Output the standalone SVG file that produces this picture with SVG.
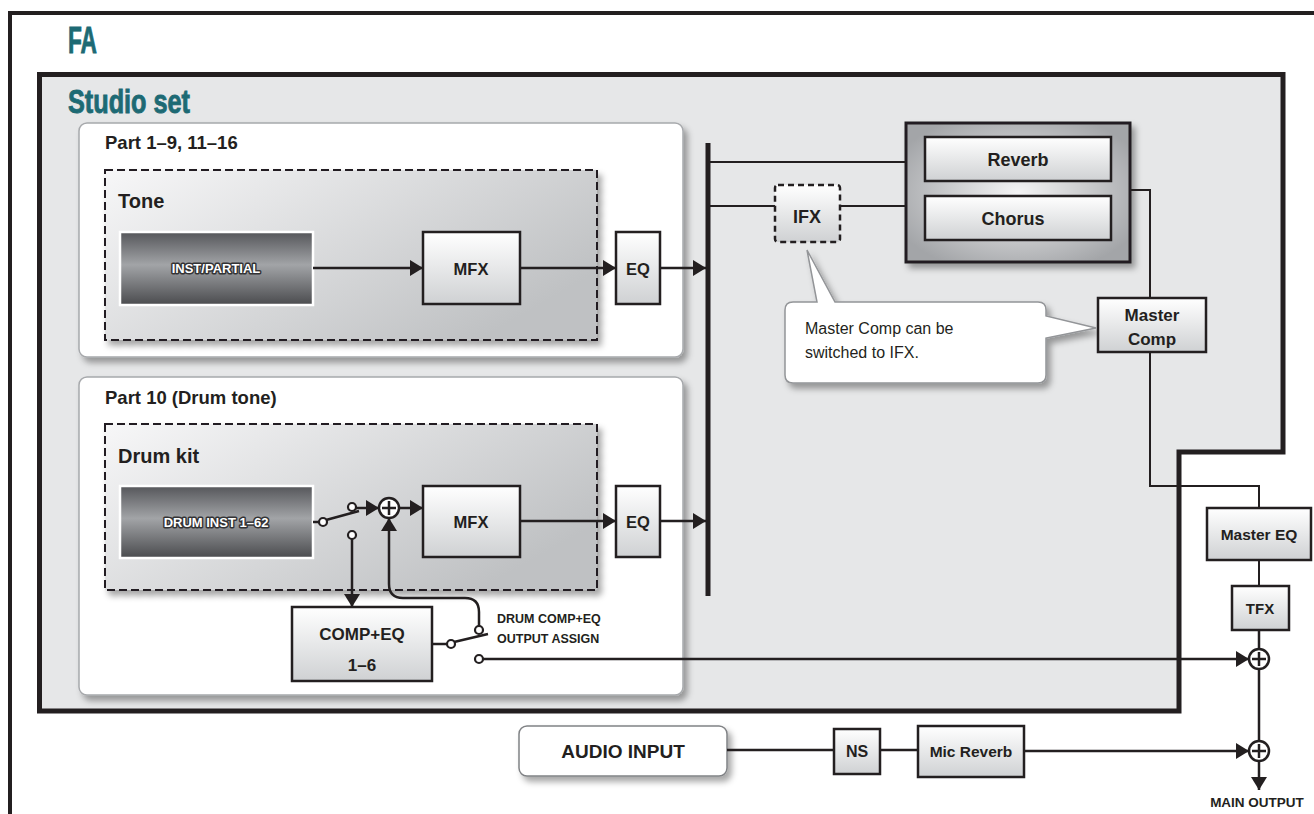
<svg xmlns="http://www.w3.org/2000/svg" width="1314" height="814" viewBox="0 0 1314 814">
<defs>
<linearGradient id="boxg" x1="0" y1="0" x2="0" y2="1"><stop offset="0" stop-color="#ffffff"/><stop offset="1" stop-color="#cfd1d3"/></linearGradient>
<linearGradient id="darkg" x1="0" y1="0" x2="0" y2="1"><stop offset="0" stop-color="#55565a"/><stop offset="0.45" stop-color="#a2a4a7"/><stop offset="1" stop-color="#4a4b4e"/></linearGradient>
<linearGradient id="areag" x1="0" y1="0" x2="1" y2="0.6"><stop offset="0" stop-color="#f7f7f8"/><stop offset="1" stop-color="#bfc1c3"/></linearGradient>
<radialGradient id="fxg" cx="0.5" cy="0.5" r="0.6"><stop offset="0" stop-color="#f4f4f5"/><stop offset="1" stop-color="#a3a5a8"/></radialGradient>
<filter id="sh" x="-10%" y="-10%" width="130%" height="140%"><feDropShadow dx="4" dy="5" stdDeviation="3" flood-color="#000" flood-opacity="0.35"/></filter>
<marker id="ah" markerUnits="userSpaceOnUse" markerWidth="14" markerHeight="16" refX="13" refY="8" orient="auto"><path d="M0,0 L13,8 L0,16 Z" fill="#231f20"/></marker>
<style>
.t{font-family:"Liberation Sans",Arial,sans-serif;fill:#231f20}
.b{font-weight:bold}
.title{font-family:"Liberation Sans",Arial,sans-serif;font-weight:bold;fill:#1d6a74;stroke:#1d6a74;stroke-width:0.9}
.box{fill:url(#boxg);stroke:#231f20;stroke-width:2.5}
.dark{fill:url(#darkg);stroke:#ffffff;stroke-width:2.5}
.wl{font-family:"Liberation Sans",Arial,sans-serif;font-weight:bold;font-size:13px;fill:#ffffff;stroke:#333335;stroke-width:3;paint-order:stroke;stroke-linejoin:round}
.part{fill:#ffffff;stroke:#a7a9ac;stroke-width:1.5}
.area{fill:url(#areag);stroke:#231f20;stroke-width:2;stroke-dasharray:8 4}
.ln{fill:none;stroke:#231f20;stroke-width:2.5}
.ln2{fill:none;stroke:#231f20;stroke-width:2}
.ar{fill:none;stroke:#231f20;stroke-width:2.5;marker-end:url(#ah)}
.dot{fill:#ffffff;stroke:#231f20;stroke-width:2.2}
.plus{fill:#ffffff;stroke:#231f20;stroke-width:2.5}
</style>
</defs>

<g id="frame-fa">
<rect x="10" y="13" width="1330" height="830" fill="#ffffff" stroke="#231f20" stroke-width="4"/>
<text class="title" x="68" y="53" font-size="36" textLength="29" lengthAdjust="spacingAndGlyphs">FA</text>
</g>
<g id="frame-studio">
<path d="M39.5,74.5 H1283 V452 H1179 V711 H39.5 Z" fill="#e6e7e8" stroke="#231f20" stroke-width="5"/>
<text class="title" x="68" y="113" font-size="33" textLength="122" lengthAdjust="spacingAndGlyphs">Studio set</text>
</g>

<g id="part1">
<rect class="part" x="79" y="123" width="604" height="234" rx="8" filter="url(#sh)"/>
<text class="t b" x="105" y="149" font-size="18.5">Part 1–9, 11–16</text>
</g>
<g id="tone">
<rect class="area" x="105" y="170" width="492" height="170" filter="url(#sh)"/>
<text class="t b" x="118" y="208" font-size="20">Tone</text>
</g>
<g id="inst-partial">
<rect class="dark" x="120" y="232" width="193" height="73"/>
<text class="wl" x="216" y="273" text-anchor="middle">INST/PARTIAL</text>
</g>
<g id="mfx1">
<rect class="box" x="423" y="232" width="97" height="72"/>
<text class="t b" x="471" y="275" font-size="16.5" text-anchor="middle">MFX</text>
</g>
<g id="eq1">
<rect class="box" x="616" y="232" width="44" height="72"/>
<text class="t b" x="638" y="275" font-size="16.5" text-anchor="middle">EQ</text>
</g>

<g id="part10">
<rect class="part" x="79" y="377" width="604" height="318" rx="8" filter="url(#sh)"/>
<text class="t b" x="105" y="404" font-size="18.5">Part 10 (Drum tone)</text>
</g>
<g id="drumkit">
<rect class="area" x="105" y="424" width="492" height="166" filter="url(#sh)"/>
<text class="t b" x="118" y="463" font-size="20">Drum kit</text>
</g>
<g id="drum-inst">
<rect class="dark" x="120" y="486" width="193" height="72"/>
<text class="wl" x="216" y="527" text-anchor="middle">DRUM INST 1–62</text>
</g>
<g id="mfx2">
<rect class="box" x="423" y="486" width="97" height="71"/>
<text class="t b" x="471" y="528" font-size="16.5" text-anchor="middle">MFX</text>
</g>
<g id="eq2">
<rect class="box" x="616" y="486" width="44" height="71"/>
<text class="t b" x="638" y="528" font-size="16.5" text-anchor="middle">EQ</text>
</g>
<g id="compeq">
<rect class="box" x="292" y="607" width="140" height="74"/>
<text class="t b" x="362" y="640" font-size="17" text-anchor="middle">COMP+EQ</text>
<text class="t b" x="362" y="671" font-size="17" text-anchor="middle">1–6</text>
</g>
<g id="assign-label">
<text class="t b" x="497" y="623" font-size="12.5">DRUM COMP+EQ</text>
<text class="t b" x="497" y="643" font-size="12.5">OUTPUT ASSIGN</text>
</g>

<g id="ifx">
<rect x="775" y="185" width="65" height="57" rx="3" fill="url(#boxg)" stroke="#231f20" stroke-width="2.5" stroke-dasharray="6 4"/>
<text class="t b" x="807" y="223" font-size="18" text-anchor="middle">IFX</text>
</g>
<g id="fx-block">
<rect x="906" y="123" width="224" height="139" fill="url(#fxg)" stroke="#231f20" stroke-width="3" filter="url(#sh)"/>
</g>
<g id="reverb">
<rect class="box" x="925" y="137" width="186" height="44" stroke-width="3"/>
<text class="t b" x="1018" y="166" font-size="18" text-anchor="middle">Reverb</text>
</g>
<g id="chorus">
<rect class="box" x="925" y="196" width="186" height="44" stroke-width="3"/>
<text class="t b" x="1013" y="225" font-size="18" text-anchor="middle">Chorus</text>
</g>
<g id="callout">
<path d="M793,302 H817 L807,250 L835,302 H1038 Q1046,302 1046,310 V316 L1096,328 L1046,338 V375 Q1046,383 1038,383 H793 Q785,383 785,375 V310 Q785,302 793,302 Z" fill="#ffffff" stroke="#939598" stroke-width="1.5" filter="url(#sh)"/>
<text class="t" x="805" y="334" font-size="16">Master Comp can be</text>
<text class="t" x="805" y="358" font-size="16">switched to IFX.</text>
</g>
<g id="master-comp">
<rect class="box" x="1098" y="298" width="108" height="54"/>
<text class="t b" x="1152" y="321" font-size="17" text-anchor="middle">Master</text>
<text class="t b" x="1152" y="345" font-size="17" text-anchor="middle">Comp</text>
</g>
<g id="master-eq">
<rect class="box" x="1207" y="508" width="104" height="52"/>
<text class="t b" x="1259" y="540" font-size="15.5" text-anchor="middle">Master EQ</text>
</g>
<g id="tfx">
<rect class="box" x="1232" y="586" width="57" height="44"/>
<text class="t b" x="1260" y="614" font-size="15" text-anchor="middle">TFX</text>
</g>
<g id="audio-input">
<rect x="519" y="726" width="208" height="50" rx="8" fill="#ffffff" stroke="#808285" stroke-width="1.5" filter="url(#sh)"/>
<text class="t b" x="623" y="758" font-size="19" text-anchor="middle">AUDIO INPUT</text>
</g>
<g id="ns">
<rect class="box" x="834" y="729" width="46" height="45"/>
<text class="t b" x="857" y="757" font-size="16" text-anchor="middle">NS</text>
</g>
<g id="mic-reverb">
<rect class="box" x="918" y="726" width="106" height="51"/>
<text class="t b" x="971" y="757" font-size="15.5" text-anchor="middle">Mic Reverb</text>
</g>
<g id="main-output">
<text class="t b" x="1257" y="807" font-size="13.5" text-anchor="middle">MAIN OUTPUT</text>
</g>

<g id="connectors">
<line class="ar" x1="313" y1="268" x2="423" y2="268"/>
<line class="ar" x1="520" y1="268" x2="616" y2="268"/>
<line class="ar" x1="660" y1="268" x2="706" y2="268"/>
<line class="ar" x1="520" y1="521" x2="616" y2="521"/>
<line class="ar" x1="660" y1="521" x2="706" y2="521"/>
<line x1="708" y1="143" x2="708" y2="596" stroke="#231f20" stroke-width="5"/>
<line class="ln2" x1="708" y1="162" x2="906" y2="162"/>
<line class="ln2" x1="708" y1="206" x2="775" y2="206"/>
<line class="ln2" x1="840" y1="206" x2="906" y2="206"/>
<path class="ln2" d="M1130,190 H1150 V298"/>
<path class="ln2" d="M1150,352 V486 H1259 V508"/>
<line class="ln2" x1="1259" y1="560" x2="1259" y2="586"/>
<line class="ln" x1="1259" y1="630" x2="1259" y2="649"/>
<line class="ln" x1="1259" y1="669" x2="1259" y2="741"/>
<line class="ar" x1="1259" y1="761" x2="1259" y2="790"/>
<line class="ln" x1="313" y1="522" x2="319" y2="522"/>
<line class="ln" x1="326" y1="520" x2="359" y2="511"/>
<line class="ar" x1="356" y1="508" x2="379" y2="508"/>
<line class="ar" x1="399" y1="508" x2="423" y2="508"/>
<line class="ar" x1="352" y1="539" x2="352" y2="607"/>
<path class="ar" d="M479,626 V612 Q479,598 465,598 H403 Q389,598 389,584 V518"/>
<line class="ln" x1="432" y1="644" x2="447" y2="644"/>
<line class="ln" x1="454" y1="642" x2="488" y2="634"/>
<line class="ar" x1="483" y1="659" x2="1249" y2="659"/>
<line class="ln" x1="727" y1="750" x2="834" y2="750"/>
<line class="ln" x1="880" y1="750" x2="918" y2="750"/>
<line class="ar" x1="1024" y1="751" x2="1249" y2="751"/>
<circle class="dot" cx="323" cy="522" r="4"/>
<circle class="dot" cx="352" cy="507" r="4"/>
<circle class="dot" cx="352" cy="535" r="4"/>
<circle class="dot" cx="451" cy="644" r="4"/>
<circle class="dot" cx="479" cy="630" r="4"/>
<circle class="dot" cx="479" cy="659" r="4"/>
<g>
<circle class="plus" cx="389" cy="508" r="10"/>
<path class="ln" d="M382,508 H396 M389,501 V515"/>
<circle class="plus" cx="1259" cy="659" r="10"/>
<path class="ln" d="M1252,659 H1266 M1259,652 V666"/>
<circle class="plus" cx="1259" cy="751" r="10"/>
<path class="ln" d="M1252,751 H1266 M1259,744 V758"/>
</g>
</g>
</svg>
